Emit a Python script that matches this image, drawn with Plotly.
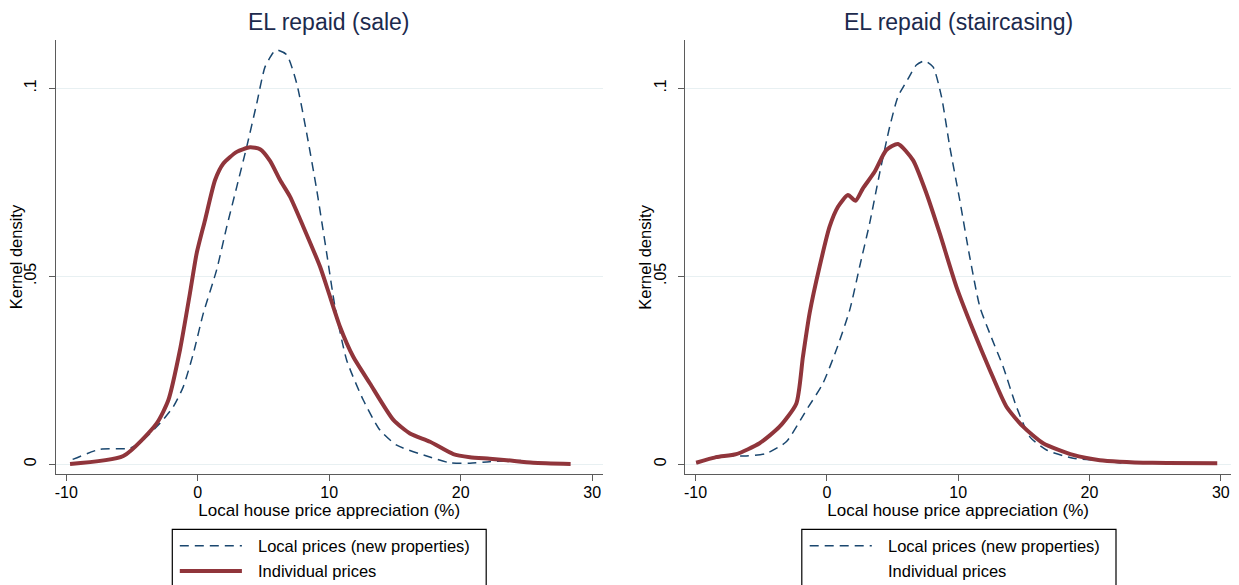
import plotly.graph_objects as go
from plotly.subplots import make_subplots

# ---- EL repaid (sale) ----
sale_local_x = [-9.51, -7.43, -5.15, -4.14, -2.87, -1.86, -1.10, -0.33, 0.43, 1.44, 2.21, 2.97,
                3.73, 4.49, 5.12, 5.75, 6.00, 6.77, 7.53, 8.29, 9.05, 9.81, 10.44, 11.33, 12.59,
                13.86, 15.13, 17.41, 19.18, 20.70, 22.20, 24.80]
sale_local_y = [0.0013, 0.0040, 0.0043, 0.0065, 0.0109, 0.0153, 0.0206, 0.0295, 0.0402, 0.0517,
                0.0632, 0.0738, 0.0845, 0.0960, 0.1057, 0.1095, 0.1102, 0.1089, 0.1013, 0.0880,
                0.0730, 0.0561, 0.0419, 0.0277, 0.0171, 0.0091, 0.0051, 0.0022, 0.0004, 0.0003,
                0.0007, 0.0010]

sale_indiv_x = [-9.71, -5.66, -3.12, -2.23, -1.35, -0.59, -0.08, 0.56, 1.32, 1.95, 2.97, 3.98,
                4.74, 5.50, 6.26, 7.02, 8.03, 9.30, 10.06, 10.82, 11.83, 13.10, 14.88, 16.14,
                17.67, 19.44, 20.70, 22.20, 23.50, 25.50, 28.36]
sale_indiv_y = [0.0001, 0.0022, 0.0109, 0.0171, 0.0304, 0.0455, 0.0561, 0.0650, 0.0756, 0.0800,
                0.0831, 0.0843, 0.0838, 0.0807, 0.0756, 0.0712, 0.0632, 0.0526, 0.0446, 0.0366,
                0.0286, 0.0215, 0.0118, 0.0082, 0.0060, 0.0027, 0.0019, 0.0015, 0.0011, 0.0004,
                0.0001]

# ---- EL repaid (staircasing) ----
stair_local_x = [-9.95, -8.17, -6.14, -4.61, -3.09, -1.56, -0.30, 0.72, 1.74, 2.50, 3.26, 4.02,
                 4.79, 5.42, 6.18, 6.82, 7.45, 8.09, 8.73, 9.36, 10.12, 10.88, 11.65, 12.41,
                 13.42, 14.44, 15.46, 16.73, 18.76, 20.80, 22.50]
stair_local_y = [0.0004, 0.0023, 0.0022, 0.0029, 0.0060, 0.0144, 0.0215, 0.0304, 0.0410, 0.0526,
                 0.0641, 0.0774, 0.0898, 0.0978, 0.1025, 0.1062, 0.1073, 0.1057, 0.0978, 0.0845,
                 0.0703, 0.0552, 0.0419, 0.0348, 0.0260, 0.0153, 0.0073, 0.0038, 0.0016, 0.0010,
                 0.0003]

stair_indiv_x = [-9.95, -8.42, -6.90, -5.12, -3.60, -2.32, -1.82, -1.31, -0.55, 0.21, 0.85, 1.61,
                 2.19, 2.75, 3.64, 4.53, 5.42, 6.56, 7.58, 8.60, 9.87, 11.14, 12.41, 13.68,
                 14.95, 16.47, 18.76, 20.79, 22.30, 24.80, 29.73]
stair_indiv_y = [0.0004, 0.0019, 0.0027, 0.0056, 0.0100, 0.0162, 0.0286, 0.0402, 0.0526, 0.0632,
                 0.0685, 0.0716, 0.0701, 0.0734, 0.0778, 0.0836, 0.0852, 0.0809, 0.0721, 0.0614,
                 0.0472, 0.0357, 0.0251, 0.0153, 0.0100, 0.0056, 0.0025, 0.0011, 0.0007, 0.0004,
                 0.0003]

panel_titles = ["EL repaid (sale)", "EL repaid (staircasing)"]
x_ticks = [-10, 0, 10, 20, 30]
x_tick_text = ["-10", "0", "10", "20", "30"]
y_ticks = [0, 0.05, 0.1]
y_tick_text = ["0", ".05", ".1"]
legend_labels = ["Local prices (new properties)", "Individual prices"]

BLUE = "#1a476f"
RED = "#90353b"
FONT = "Liberation Sans"
W, H = 1239, 585

fig = make_subplots(rows=1, cols=2)

panels = [
    (sale_local_x, sale_local_y, sale_indiv_x, sale_indiv_y),
    (stair_local_x, stair_local_y, stair_indiv_x, stair_indiv_y),
]
for i, (lx, ly, ix, iy) in enumerate(panels, start=1):
    fig.add_trace(go.Scatter(x=lx, y=ly, mode="lines", name=legend_labels[0],
                             line=dict(color=BLUE, width=1.5, dash="9px,6px",
                                       shape="spline", smoothing=0.6),
                             showlegend=False), row=1, col=i)
    fig.add_trace(go.Scatter(x=ix, y=iy, mode="lines", name=legend_labels[1],
                             line=dict(color=RED, width=4, shape="spline", smoothing=0.6),
                             showlegend=False), row=1, col=i)

# plot-area geometry in pixels
x_dom = [(55.7, 602.7), (685.0, 1231.3)]
y_top, y_bot = 40.0, 474.3

axis_common = dict(showline=True, linecolor="#5b5b5b", linewidth=1.2, ticks="outside",
                   ticklen=6, tickcolor="#5b5b5b", mirror=False, zeroline=False,
                   tickfont=dict(family=FONT, size=16, color="#000000"))

for i in range(2):
    xa = "xaxis" if i == 0 else "xaxis2"
    ya = "yaxis" if i == 0 else "yaxis2"
    fig.layout[xa].update(
        domain=[x_dom[i][0] / W, x_dom[i][1] / W], range=[-10.8, 30.8],
        tickvals=x_ticks, ticktext=x_tick_text, showgrid=False, ticklabelstandoff=-3,
        title=dict(text="Local house price appreciation (%)", standoff=0,
                   font=dict(family=FONT, size=17, color="#000000")),
        **axis_common)
    fig.layout[ya].update(
        domain=[(H - y_bot) / H, (H - y_top) / H], range=[-0.00266, 0.11285],
        tickvals=y_ticks, ticktext=y_tick_text, tickangle=-90, ticklabelstandoff=6,
        showgrid=True, gridcolor="#e8f0f2", gridwidth=1.2,
        **axis_common)

annotations = []
shapes = []
title_cx = [(a + b) / 2 for a, b in x_dom]
for i in range(2):
    annotations.append(dict(text=panel_titles[i], x=title_cx[i] / W, y=1 - 22 / H,
                            xref="paper", yref="paper", showarrow=False,
                            xanchor="center", yanchor="middle",
                            font=dict(family=FONT, size=23, color="#1c2a4d")))
    # vertical axis title
    annotations.append(dict(text="Kernel density", x=(x_dom[i][0] - 39.5) / W,
                            y=1 - (y_top + y_bot) / 2 / H, xref="paper", yref="paper",
                            showarrow=False, textangle=-90, xanchor="center", yanchor="middle",
                            font=dict(family=FONT, size=16.5, color="#000000")))

# legend boxes below each panel
legend_boxes = [(172.3, 486.2), (801.8, 1116.0)]
sample_x = [(179.8, 241.9), (809.7, 871.8)]
text_x = [256.1, 885.6]
row_y = [545.7, 571.0]
for i in range(2):
    bx0, bx1 = legend_boxes[i]
    shapes.append(dict(type="rect", xref="paper", yref="paper",
                       x0=bx0 / W, x1=bx1 / W, y0=-0.05, y1=1 - 529.3 / H,
                       line=dict(color="#000000", width=1.2), fillcolor="rgba(0,0,0,0)"))
    sx0, sx1 = sample_x[i]
    shapes.append(dict(type="line", xref="paper", yref="paper",
                       x0=sx0 / W, x1=sx1 / W, y0=1 - row_y[0] / H, y1=1 - row_y[0] / H,
                       line=dict(color=BLUE, width=1.5, dash="9px,6px")))
    if i == 0:
        shapes.append(dict(type="line", xref="paper", yref="paper",
                           x0=sx0 / W, x1=sx1 / W, y0=1 - row_y[1] / H, y1=1 - row_y[1] / H,
                           line=dict(color=RED, width=4)))
    for k, label in enumerate(legend_labels):
        annotations.append(dict(text=label, x=text_x[i] / W, y=1 - row_y[k] / H,
                                xref="paper", yref="paper", showarrow=False,
                                xanchor="left", yanchor="middle",
                                font=dict(family=FONT, size=16.5, color="#000000")))

fig.update_layout(width=W, height=H, margin=dict(l=0, r=0, t=0, b=0),
                  paper_bgcolor="white", plot_bgcolor="white",
                  annotations=annotations, shapes=shapes, showlegend=False)

fig.write_html("out.html")
